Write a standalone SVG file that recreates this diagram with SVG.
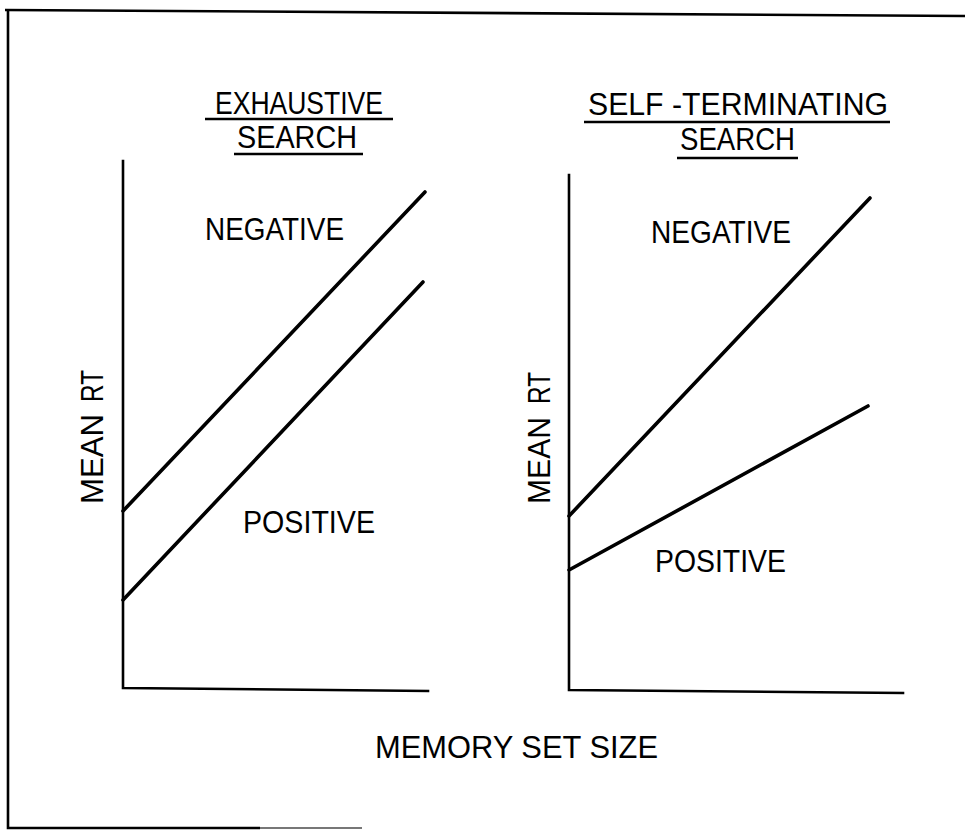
<svg xmlns="http://www.w3.org/2000/svg" width="965" height="835" viewBox="0 0 965 835">
<style>
  .t{font-family:"Liberation Sans","DejaVu Sans",Arial,sans-serif;font-size:31px;fill:#000}
  .ax{stroke:#000;stroke-width:2.6;fill:none;stroke-linecap:square}
  .ln{stroke:#000;stroke-width:3.6;fill:none;stroke-linecap:round}
  .ul{stroke:#000;stroke-width:2.4}
  .fr{stroke:#000;stroke-width:2.6;fill:none}
</style>
<rect width="965" height="835" fill="#fff"/>
<g id="frame">
  <path class="fr" d="M5 10 L965 16"/>
  <path class="fr" d="M8 10 L8 828 L260 828"/>
  <path d="M260 828 L362 828" stroke="#777" stroke-width="2"/>
</g>
<g id="panel-exhaustive">
  <g id="title-exhaustive">
    <text class="t" x="215" y="114" textLength="168" lengthAdjust="spacingAndGlyphs">EXHAUSTIVE</text>
    <line class="ul" x1="205" y1="119" x2="393" y2="119"/>
    <text class="t" x="237" y="148" textLength="120" lengthAdjust="spacingAndGlyphs">SEARCH</text>
    <line class="ul" x1="234" y1="154" x2="363" y2="154"/>
  </g>
  <g id="axes-left">
    <path class="ax" d="M123 161 L123 688 L428 691"/>
  </g>
  <g id="ylabel-left">
    <text class="t" transform="translate(103 504) rotate(-90)" textLength="90" lengthAdjust="spacingAndGlyphs">MEAN</text>
    <text class="t" transform="translate(103 402) rotate(-90)" textLength="32" lengthAdjust="spacingAndGlyphs">RT</text>
  </g>
  <text class="t" x="205" y="240" font-size="32" textLength="139" lengthAdjust="spacingAndGlyphs">NEGATIVE</text>
  <text class="t" x="243" y="533" font-size="32" textLength="132" lengthAdjust="spacingAndGlyphs">POSITIVE</text>
</g>
<g id="panel-selfterminating">
  <g id="title-selfterminating">
    <text class="t" x="588" y="115" textLength="300" lengthAdjust="spacingAndGlyphs">SELF -TERMINATING</text>
    <line class="ul" x1="584" y1="122" x2="890" y2="122"/>
    <text class="t" x="680" y="150" textLength="115" lengthAdjust="spacingAndGlyphs">SEARCH</text>
    <line class="ul" x1="677" y1="158" x2="798" y2="158"/>
  </g>
  <g id="axes-right">
    <path class="ax" d="M569 175 L569 690 L903 693"/>
  </g>
  <g id="ylabel-right">
    <text class="t" transform="translate(550 504) rotate(-90)" textLength="87" lengthAdjust="spacingAndGlyphs">MEAN</text>
    <text class="t" transform="translate(550 404) rotate(-90)" textLength="32" lengthAdjust="spacingAndGlyphs">RT</text>
  </g>
  <text class="t" x="651" y="243" font-size="32" textLength="140" lengthAdjust="spacingAndGlyphs">NEGATIVE</text>
  <text class="t" x="655" y="572" font-size="32" textLength="131" lengthAdjust="spacingAndGlyphs">POSITIVE</text>
</g>
<g id="connectors">
  <line class="ln" x1="123" y1="511" x2="425" y2="192"/>
  <line class="ln" x1="123" y1="600" x2="423" y2="282"/>
  <line class="ln" x1="569" y1="516" x2="870" y2="198"/>
  <line class="ln" x1="569" y1="570" x2="868" y2="406"/>
</g>
<g id="xlabel">
  <text class="t" x="375" y="758" textLength="283" lengthAdjust="spacingAndGlyphs">MEMORY SET  SIZE</text>
</g>
</svg>
